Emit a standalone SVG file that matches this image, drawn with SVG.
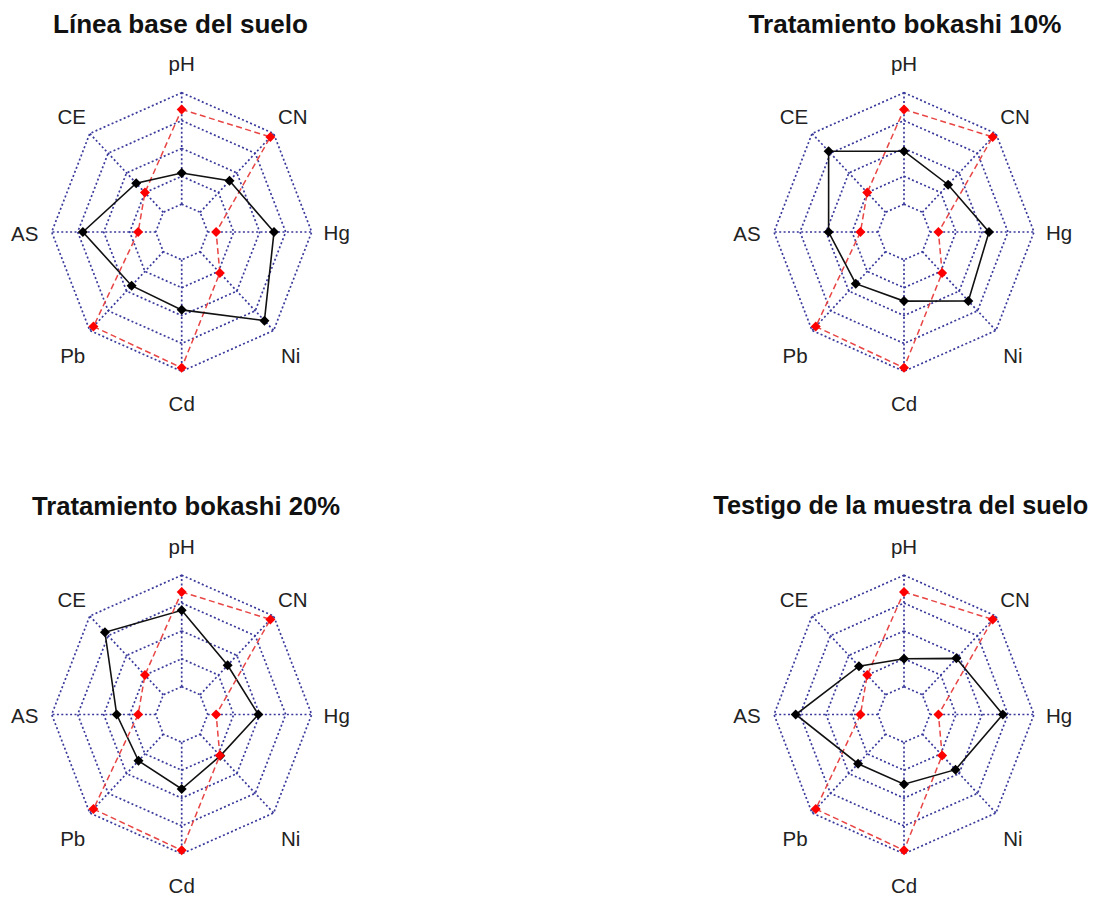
<svg xmlns="http://www.w3.org/2000/svg" xmlns:xlink="http://www.w3.org/1999/xlink" width="1105" height="897" viewBox="0 0 1105 897">
<style>
.grid{fill:none;stroke:#3a3a9c;stroke-width:1.7;stroke-dasharray:2 2.4}
.ref{fill:none;stroke:#e84545;stroke-width:1.5;stroke-dasharray:6 3.5}
.obs{fill:none;stroke:#111;stroke-width:1.6}
.lab{font-family:"Liberation Sans",Arial,sans-serif;font-size:20.5px;fill:#222;text-anchor:middle}
.ttl{font-family:"Liberation Sans",Arial,sans-serif;font-size:25px;font-weight:bold;fill:#111;text-anchor:middle}
</style>
<defs>
<g id="grid" class="grid">
<polygon points="0,-139.3 91.92,-98.5 130,0 91.92,98.5 0,139.3 -91.92,98.5 -130,0 -91.92,-98.5"/>
<polygon points="0,-111.44 73.54,-78.8 104,0 73.54,78.8 0,111.44 -73.54,78.8 -104,0 -73.54,-78.8"/>
<polygon points="0,-83.58 55.15,-59.1 78,0 55.15,59.1 0,83.58 -55.15,59.1 -78,0 -55.15,-59.1"/>
<polygon points="0,-55.72 36.77,-39.4 52,0 36.77,39.4 0,55.72 -36.77,39.4 -52,0 -36.77,-39.4"/>
<polygon points="0,-27.86 18.38,-19.7 26,0 18.38,19.7 0,27.86 -18.38,19.7 -26,0 -18.38,-19.7"/>
<path d="M0,-27.86L0,-139.3M18.38,-19.7L91.92,-98.5M26,0L130,0M18.38,19.7L91.92,98.5M0,27.86L0,139.3M-18.38,19.7L-91.92,98.5M-26,0L-130,0M-18.38,-19.7L-91.92,-98.5"/>
</g>
<path id="dmR" d="M0,-5L5,0L0,5L-5,0Z" fill="#ff0000"/>
<path id="dmB" d="M0,-5L5,0L0,5L-5,0Z" fill="#000"/>
<g id="refseries">
<polygon class="ref" points="0,-122.6 88.7,-95.05 34.45,0 38.15,40.88 0,135.8 -88.24,94.56 -43.55,0 -36.77,-39.4"/>
<use xlink:href="#dmR" x="0" y="-122.6"/><use xlink:href="#dmR" x="88.7" y="-95.05"/><use xlink:href="#dmR" x="34.45" y="0"/><use xlink:href="#dmR" x="38.15" y="40.88"/><use xlink:href="#dmR" x="0" y="135.8"/><use xlink:href="#dmR" x="-88.24" y="94.56"/><use xlink:href="#dmR" x="-43.55" y="0"/><use xlink:href="#dmR" x="-36.77" y="-39.4"/>
</g>
</defs>

<g id="chart-linea-base">
<text class="ttl" x="180.5" y="33" textLength="255" lengthAdjust="spacingAndGlyphs">Línea base del suelo</text>
<g transform="translate(181.7,232)">
<use xlink:href="#grid"/>
<g id="series-1">
<use xlink:href="#refseries"/>
<polygon class="obs" points="0,-59.06 47.8,-51.22 92.3,0 82.73,88.65 0,77.87 -50.1,53.68 -98.8,0 -45.5,-48.76"/>
<use xlink:href="#dmB" x="0" y="-59.06"/><use xlink:href="#dmB" x="47.8" y="-51.22"/><use xlink:href="#dmB" x="92.3" y="0"/><use xlink:href="#dmB" x="82.73" y="88.65"/><use xlink:href="#dmB" x="0" y="77.87"/><use xlink:href="#dmB" x="-50.1" y="53.68"/><use xlink:href="#dmB" x="-98.8" y="0"/><use xlink:href="#dmB" x="-45.5" y="-48.76"/>
</g>
<text class="lab" x="0" y="-161">pH</text>
<text class="lab" x="111" y="-108">CN</text>
<text class="lab" x="155" y="8">Hg</text>
<text class="lab" x="109" y="131">Ni</text>
<text class="lab" x="0" y="179">Cd</text>
<text class="lab" x="-109" y="131">Pb</text>
<text class="lab" x="-157" y="8.5">AS</text>
<text class="lab" x="-110" y="-108">CE</text>
</g>
</g>

<g id="chart-bokashi-10">
<text class="ttl" x="905" y="32.5" textLength="313" lengthAdjust="spacingAndGlyphs">Tratamiento bokashi 10%</text>
<g transform="translate(904,232)">
<use xlink:href="#grid"/>
<g id="series-2">
<use xlink:href="#refseries"/>
<polygon class="obs" points="0,-80.79 44.12,-47.28 85.02,0 64.34,68.95 0,69.09 -48.26,51.71 -75.4,0 -75.37,-80.77"/>
<use xlink:href="#dmB" x="0" y="-80.79"/><use xlink:href="#dmB" x="44.12" y="-47.28"/><use xlink:href="#dmB" x="85.02" y="0"/><use xlink:href="#dmB" x="64.34" y="68.95"/><use xlink:href="#dmB" x="0" y="69.09"/><use xlink:href="#dmB" x="-48.26" y="51.71"/><use xlink:href="#dmB" x="-75.4" y="0"/><use xlink:href="#dmB" x="-75.37" y="-80.77"/>
</g>
<text class="lab" x="0" y="-161">pH</text>
<text class="lab" x="111" y="-108">CN</text>
<text class="lab" x="155" y="8">Hg</text>
<text class="lab" x="109" y="131">Ni</text>
<text class="lab" x="0" y="179">Cd</text>
<text class="lab" x="-109" y="131">Pb</text>
<text class="lab" x="-157" y="8.5">AS</text>
<text class="lab" x="-110" y="-108">CE</text>
</g>
</g>

<g id="chart-bokashi-20">
<text class="ttl" x="186" y="515" textLength="308" lengthAdjust="spacingAndGlyphs">Tratamiento bokashi 20%</text>
<g transform="translate(181.7,714.5)">
<use xlink:href="#grid"/>
<g id="series-3">
<polygon class="obs" points="0,-104.2 45.96,-49.25 76.7,0 38.61,41.37 0,74.53 -43.2,46.3 -65,0 -76.75,-82.25"/>
<use xlink:href="#dmB" x="0" y="-104.2"/><use xlink:href="#dmB" x="45.96" y="-49.25"/><use xlink:href="#dmB" x="76.7" y="0"/><use xlink:href="#dmB" x="38.61" y="41.37"/><use xlink:href="#dmB" x="0" y="74.53"/><use xlink:href="#dmB" x="-43.2" y="46.3"/><use xlink:href="#dmB" x="-65" y="0"/><use xlink:href="#dmB" x="-76.75" y="-82.25"/>
<use xlink:href="#refseries"/>
</g>
<text class="lab" x="0" y="-161">pH</text>
<text class="lab" x="111" y="-108">CN</text>
<text class="lab" x="155" y="8">Hg</text>
<text class="lab" x="109" y="131">Ni</text>
<text class="lab" x="0" y="178">Cd</text>
<text class="lab" x="-109" y="131">Pb</text>
<text class="lab" x="-157" y="8.5">AS</text>
<text class="lab" x="-110" y="-108">CE</text>
</g>
</g>

<g id="chart-testigo">
<text class="ttl" x="900.8" y="514" textLength="375" lengthAdjust="spacingAndGlyphs">Testigo de la muestra del suelo</text>
<g transform="translate(904,714.5)">
<use xlink:href="#grid"/>
<g id="series-4">
<use xlink:href="#refseries"/>
<polygon class="obs" points="0,-55.72 52.39,-56.15 98.8,0 51.48,55.16 0,69.65 -45.96,49.25 -108.29,0 -45.04,-48.27"/>
<use xlink:href="#dmB" x="0" y="-55.72"/><use xlink:href="#dmB" x="52.39" y="-56.15"/><use xlink:href="#dmB" x="98.8" y="0"/><use xlink:href="#dmB" x="51.48" y="55.16"/><use xlink:href="#dmB" x="0" y="69.65"/><use xlink:href="#dmB" x="-45.96" y="49.25"/><use xlink:href="#dmB" x="-108.29" y="0"/><use xlink:href="#dmB" x="-45.04" y="-48.27"/>
</g>
<text class="lab" x="0" y="-161">pH</text>
<text class="lab" x="111" y="-108">CN</text>
<text class="lab" x="155" y="8">Hg</text>
<text class="lab" x="109" y="131">Ni</text>
<text class="lab" x="0" y="178">Cd</text>
<text class="lab" x="-109" y="131">Pb</text>
<text class="lab" x="-157" y="8.5">AS</text>
<text class="lab" x="-110" y="-108">CE</text>
</g>
</g>
</svg>
